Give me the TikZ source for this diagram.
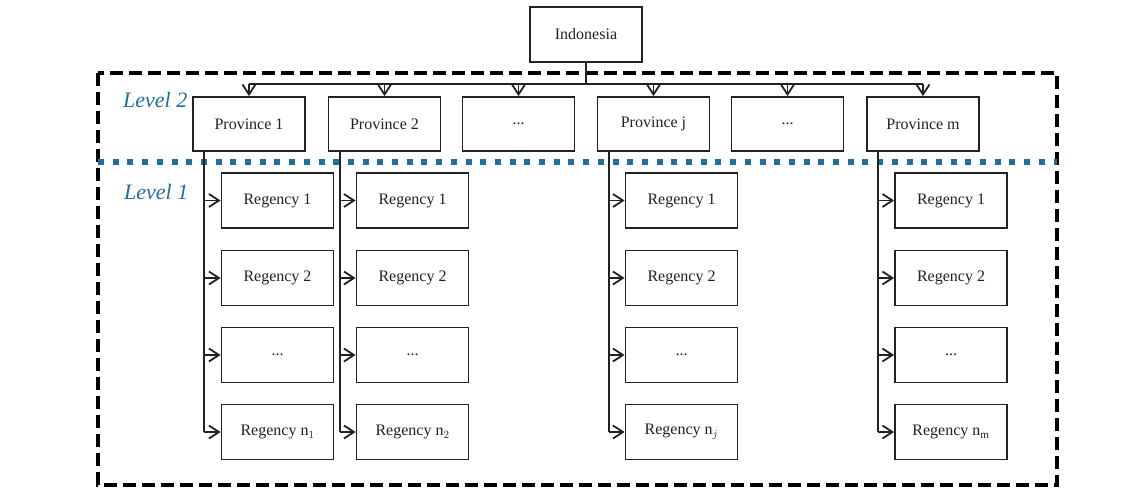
\documentclass[tikz,border=0pt]{standalone}
\usepackage{fontspec}
\setmainfont{Liberation Serif}
\usetikzlibrary{arrows.meta,calc}
\definecolor{lvblue}{HTML}{1F6FA0}
\definecolor{ink}{HTML}{222222}
\begin{document}
\begin{tikzpicture}[x=1pt,y=-1pt,
  box/.style={draw=ink,line width=1.8pt,minimum width=112pt,minimum height=55pt,inner sep=0pt,text=ink,font=\fontsize{16}{19}\selectfont},
  link/.style={ink,line width=1.8pt},
  arr/.style={ink,line width=1.8pt,-{Straight Barb[length=10pt,width=13pt,line width=1.8pt]}},
  lvl/.style={text=lvblue,font=\fontsize{22}{25}\selectfont\itshape,anchor=west,inner sep=0pt}]
\useasboundingbox (0,0) rectangle (1142,488);
\fill[white] (0,0) rectangle (1142,488);
% frames
\draw[line width=4pt,dash pattern=on 13pt off 6pt] (98,73) rectangle (1057,485);
\draw[lvblue,line width=6pt,dash pattern=on 6pt off 8.7pt] (98,162) -- (1057,162);
\node[lvl] (L2) at (123,100) {Level 2};
\node[lvl] (L1) at (124,192) {Level 1};
% top
\node[box] (ind) at (586,34.5) {Indonesia};
\node[box,minimum height=54pt] (p1) at (249,124) {Province 1};
\node[box,minimum height=54pt] (p2) at (384.5,124) {Province 2};
\node[box,minimum height=54pt] (p3) at (518.5,124) {...};
\node[box,minimum height=54pt] (pj) at (653.5,124) {Province j};
\node[box,minimum height=54pt] (p5) at (787.5,124) {...};
\node[box,minimum height=54pt] (pm) at (923,124) {Province m};
\coordinate (busL) at (249,84);
\coordinate (busR) at (923,84);
\draw[link] (ind.south) -- (ind.south |- busL);
\draw[link] (busL) -- (busR);
\foreach \p in {p1,p2,p3,pj,p5,pm}{
  \draw[arr] (\p.north |- busL) -- (\p.north);
}
% regencies
\foreach \c/\x/\pp/\last in {a/277.5/p1/{Regency n$_1$},b/412.5/p2/{Regency n$_2$},c/681.5/pj/{Regency n$_j$},d/951/pm/{Regency n$_{\mathrm{m}}$}}{
  \node[box] (\c1) at (\x,200.5) {Regency 1};
  \node[box] (\c2) at (\x,278) {Regency 2};
  \node[box] (\c3) at (\x,355) {...};
  \node[box] (\c4) at (\x,432) {\last};
  \coordinate (\c top) at ($(\pp.south west)+(12,0)$);
  \draw[link] (\c top) -- (\c top |- \c4.west);
  \foreach \r in {1,2,3,4}{
    \draw[arr] (\c top |- \c\r.west) -- (\c\r.west);
  }
}
\end{tikzpicture}
\end{document}
